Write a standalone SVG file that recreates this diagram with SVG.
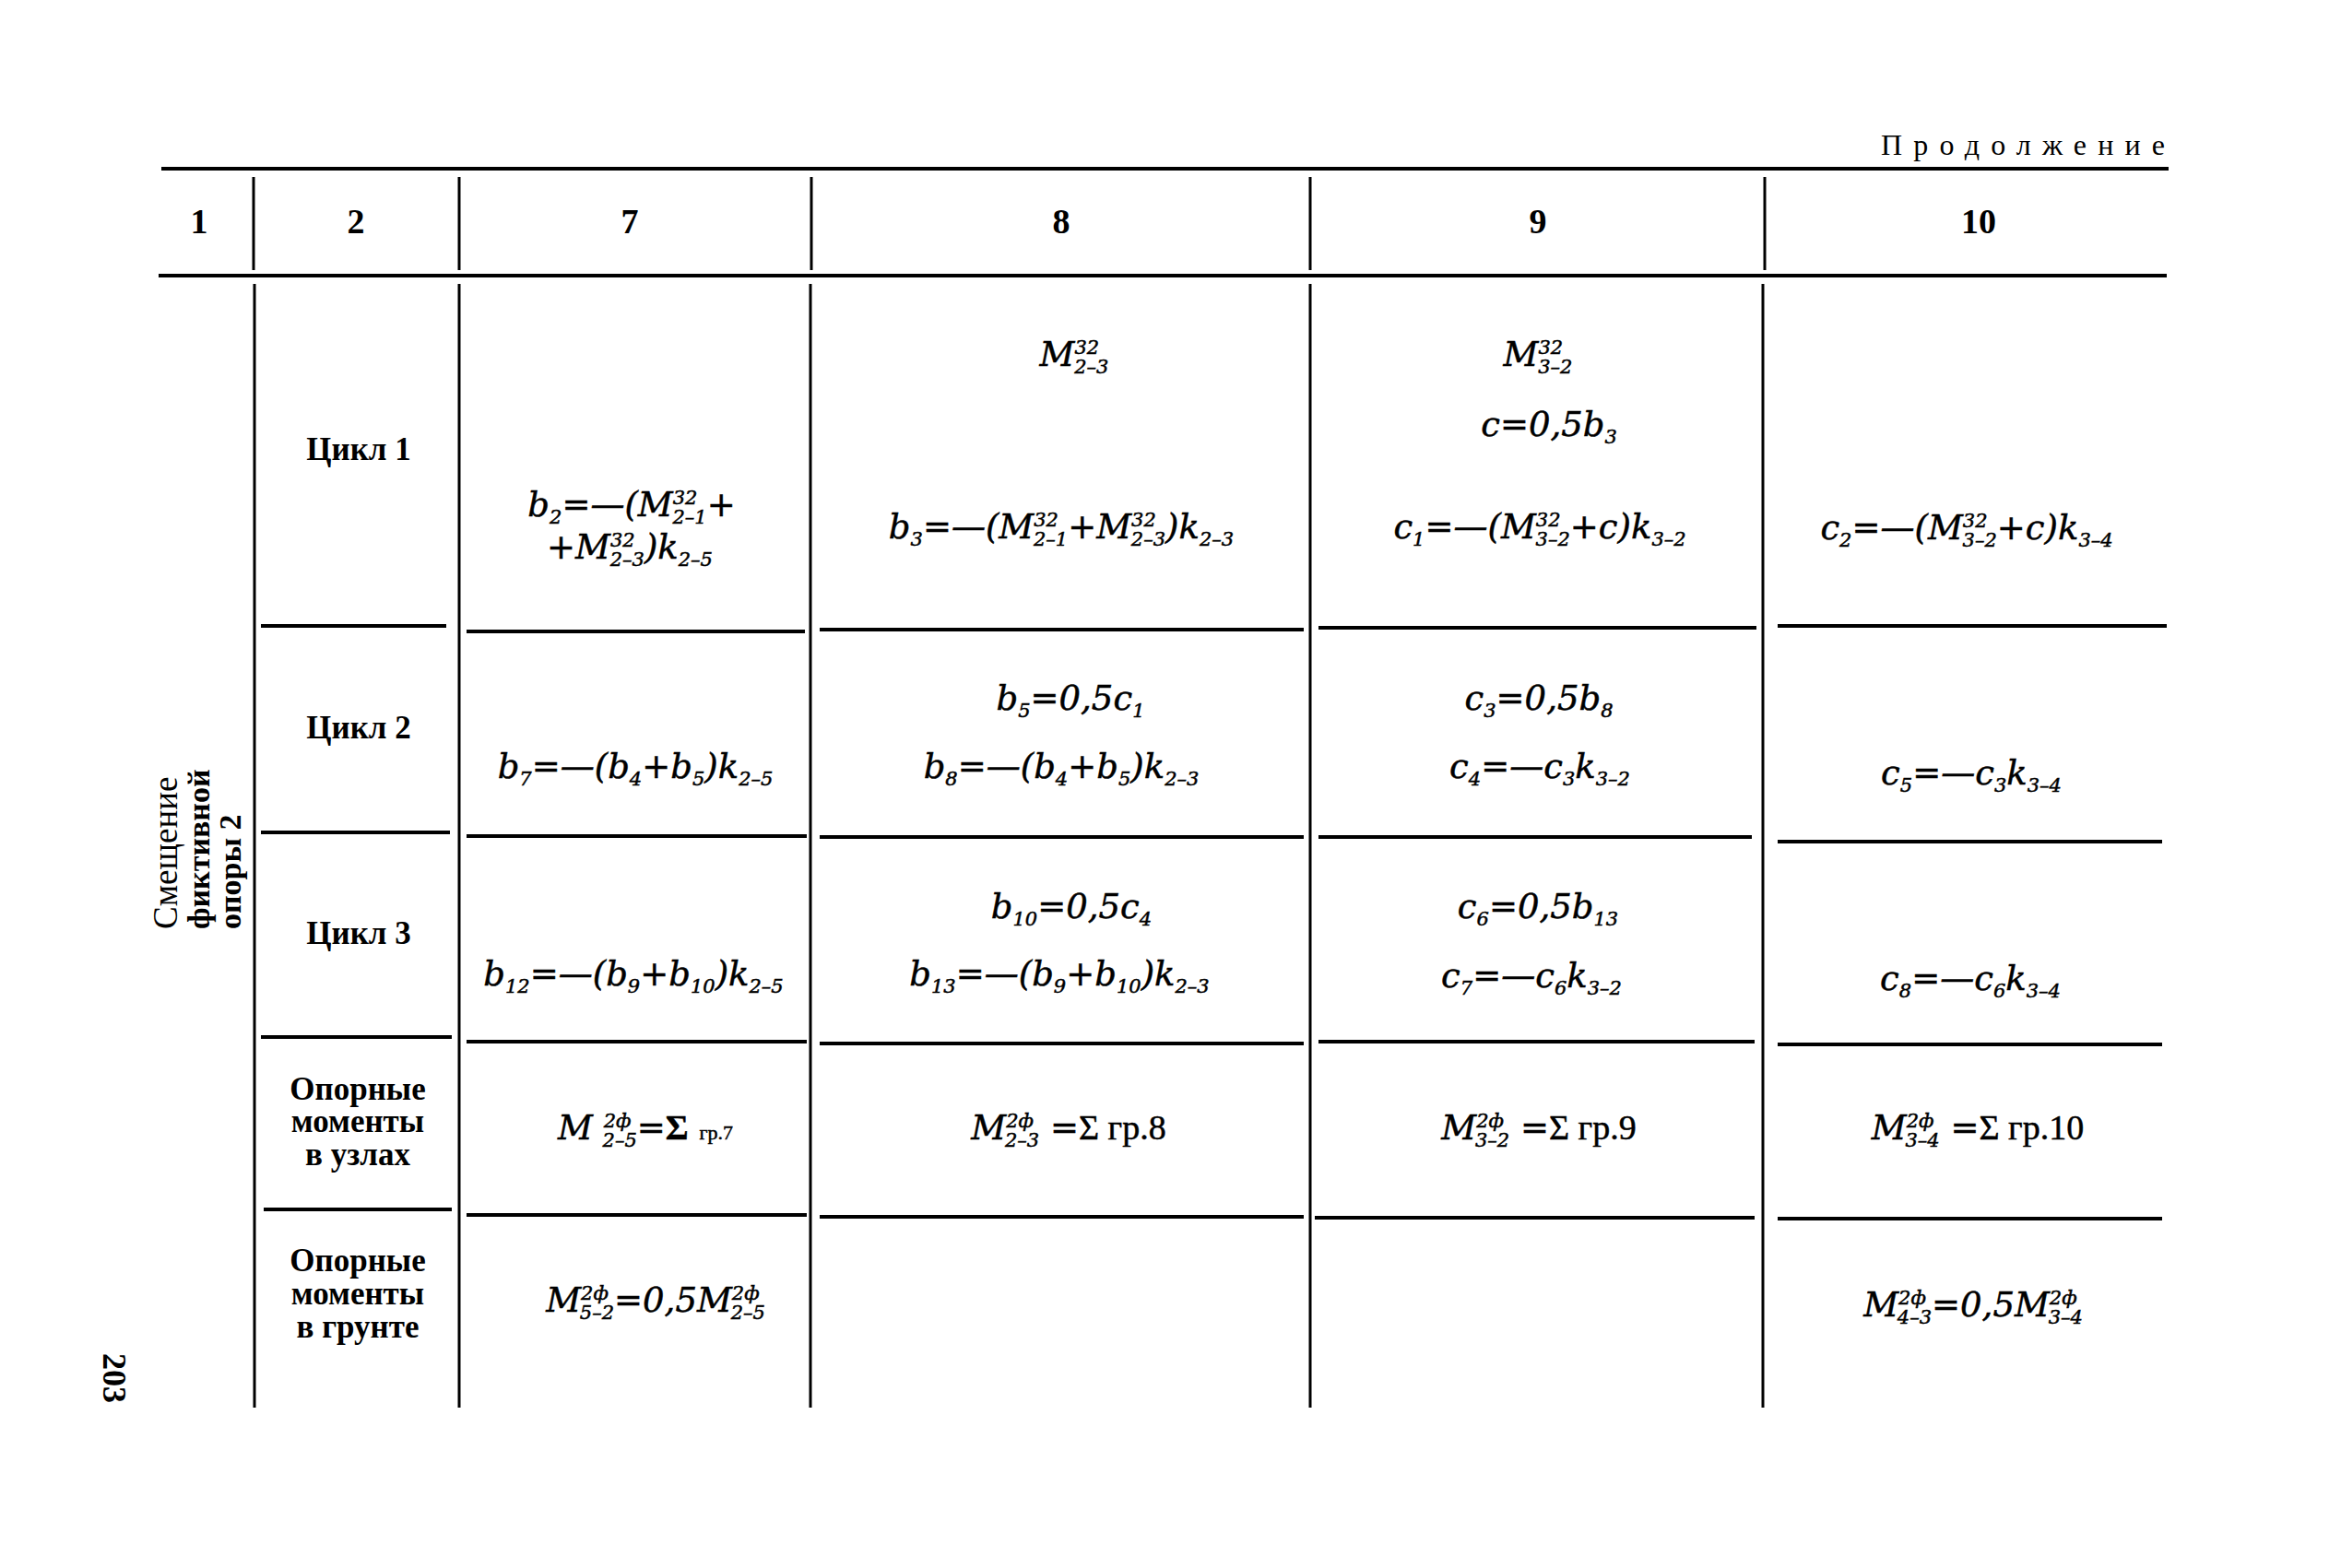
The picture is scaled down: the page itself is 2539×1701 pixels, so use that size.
<svg xmlns="http://www.w3.org/2000/svg" width="2539" height="1701" viewBox="0 0 2539 1701">
<style>
.ln{stroke:#000;stroke-width:4;fill:none}
.vl{stroke:#000;stroke-width:3;fill:none}
.h{font-family:"Liberation Serif",serif;font-weight:bold;font-size:38px;text-anchor:middle;fill:#000}
.l{font-family:"Liberation Serif",serif;font-weight:bold;font-size:35px;text-anchor:middle;fill:#000}
.f{font-family:"DejaVu Serif",serif;font-style:italic;font-size:37px;text-anchor:middle;fill:#000;stroke:#000;stroke-width:0.5}
.sb{font-size:21px;baseline-shift:-8px}
.sp{font-size:21px;baseline-shift:13px}
.u{font-family:"Liberation Serif",serif;font-style:normal;font-size:38px}
.ub{font-family:"Liberation Serif",serif;font-style:normal;font-weight:bold;font-size:38px}
.us{font-family:"Liberation Serif",serif;font-style:normal;font-size:22px}
</style>
<rect width="2539" height="1701" fill="#fff"/>
<text x="2040" y="168" font-family="Liberation Serif, serif" font-size="32" textLength="308" lengthAdjust="spacing">Продолжение</text>
<g id="grid">
<line class="ln" x1="175" y1="183" x2="2352" y2="183"/>
<line class="ln" x1="172" y1="299" x2="2350" y2="299"/>
<line class="vl" x1="275" y1="192" x2="275" y2="293"/>
<line class="vl" x1="498" y1="192" x2="498" y2="293"/>
<line class="vl" x1="880" y1="192" x2="880" y2="293"/>
<line class="vl" x1="1421" y1="192" x2="1421" y2="293"/>
<line class="vl" x1="1914" y1="192" x2="1914" y2="293"/>
<line class="vl" x1="276" y1="308" x2="276" y2="1527"/>
<line class="vl" x1="498" y1="308" x2="498" y2="1527"/>
<line class="vl" x1="879" y1="308" x2="879" y2="1527"/>
<line class="vl" x1="1421" y1="308" x2="1421" y2="1527"/>
<line class="vl" x1="1912" y1="308" x2="1912" y2="1527"/>
<line class="ln" x1="283" y1="679" x2="484" y2="679"/>
<line class="ln" x1="506" y1="685" x2="873" y2="685"/>
<line class="ln" x1="889" y1="683" x2="1414" y2="683"/>
<line class="ln" x1="1430" y1="681" x2="1905" y2="681"/>
<line class="ln" x1="1928" y1="679" x2="2350" y2="679"/>
<line class="ln" x1="283" y1="903" x2="488" y2="903"/>
<line class="ln" x1="506" y1="907" x2="875" y2="907"/>
<line class="ln" x1="889" y1="908" x2="1414" y2="908"/>
<line class="ln" x1="1430" y1="908" x2="1900" y2="908"/>
<line class="ln" x1="1928" y1="913" x2="2345" y2="913"/>
<line class="ln" x1="283" y1="1125" x2="490" y2="1125"/>
<line class="ln" x1="506" y1="1130" x2="875" y2="1130"/>
<line class="ln" x1="889" y1="1132" x2="1414" y2="1132"/>
<line class="ln" x1="1430" y1="1130" x2="1903" y2="1130"/>
<line class="ln" x1="1928" y1="1133" x2="2345" y2="1133"/>
<line class="ln" x1="286" y1="1312" x2="490" y2="1312"/>
<line class="ln" x1="506" y1="1318" x2="875" y2="1318"/>
<line class="ln" x1="889" y1="1320" x2="1414" y2="1320"/>
<line class="ln" x1="1426" y1="1321" x2="1903" y2="1321"/>
<line class="ln" x1="1928" y1="1322" x2="2345" y2="1322"/>
</g>
<g id="header">
<text class="h" x="216" y="253">1</text>
<text class="h" x="386" y="253">2</text>
<text class="h" x="683" y="253">7</text>
<text class="h" x="1151" y="253">8</text>
<text class="h" x="1668" y="253">9</text>
<text class="h" x="2146" y="253">10</text>
</g>
<g id="side-label" font-family="Liberation Serif, serif" font-weight="bold" font-size="34" transform="translate(0,1008) rotate(-90)">
<text x="0" y="192" font-weight="normal" font-size="37">Смещение</text>
<text x="0" y="227">фиктивной</text>
<text x="0" y="261">опоры 2</text>
</g>
<text id="page-number" font-family="Liberation Serif, serif" font-weight="bold" font-size="36" transform="translate(112,1468) rotate(90)" x="0" y="0">203</text>
<g id="col2">
<text class="l" x="389" y="499">Цикл 1</text>
<text class="l" x="389" y="801">Цикл 2</text>
<text class="l" x="389" y="1024">Цикл 3</text>
<text class="l" x="388" y="1193">Опорные</text>
<text class="l" x="388" y="1228">моменты</text>
<text class="l" x="388" y="1264">в узлах</text>
<text class="l" x="388" y="1379">Опорные</text>
<text class="l" x="388" y="1415">моменты</text>
<text class="l" x="388" y="1451">в грунте</text>
</g>
<g id="col7">
<text class="f" x="685" y="560">b<tspan class="sb">2</tspan>=—(M<tspan class="sp">32</tspan><tspan class="sb" dx="-27">2–1</tspan>+</text>
<text class="f" x="683" y="606">+M<tspan class="sp">32</tspan><tspan class="sb" dx="-27">2–3</tspan>)k<tspan class="sb">2–5</tspan></text>
<text class="f" x="689" y="844">b<tspan class="sb">7</tspan>=—(b<tspan class="sb">4</tspan>+b<tspan class="sb">5</tspan>)k<tspan class="sb">2–5</tspan></text>
<text class="f" x="687" y="1069">b<tspan class="sb">12</tspan>=—(b<tspan class="sb">9</tspan>+b<tspan class="sb">10</tspan>)k<tspan class="sb">2–5</tspan></text>
<text class="f" x="700" y="1236">M <tspan class="sp">2ф</tspan><tspan class="sb" dx="-31">2–5</tspan>=<tspan class="ub">Σ</tspan> <tspan class="us">гр.7</tspan></text>
<text class="f" x="711" y="1423">M<tspan class="sp">2ф</tspan><tspan class="sb" dx="-31">5–2</tspan>=0,5M<tspan class="sp">2ф</tspan><tspan class="sb" dx="-31">2–5</tspan></text>
</g>
<g id="col8">
<text class="f" x="1165" y="397">M<tspan class="sp">32</tspan><tspan class="sb" dx="-27">2–3</tspan></text>
<text class="f" x="1151" y="584">b<tspan class="sb">3</tspan>=—(M<tspan class="sp">32</tspan><tspan class="sb" dx="-27">2–1</tspan>+M<tspan class="sp">32</tspan><tspan class="sb" dx="-27">2–3</tspan>)k<tspan class="sb">2–3</tspan></text>
<text class="f" x="1161" y="770">b<tspan class="sb">5</tspan>=0,5c<tspan class="sb">1</tspan></text>
<text class="f" x="1151" y="844">b<tspan class="sb">8</tspan>=—(b<tspan class="sb">4</tspan>+b<tspan class="sb">5</tspan>)k<tspan class="sb">2–3</tspan></text>
<text class="f" x="1162" y="996">b<tspan class="sb">10</tspan>=0,5c<tspan class="sb">4</tspan></text>
<text class="f" x="1149" y="1069">b<tspan class="sb">13</tspan>=—(b<tspan class="sb">9</tspan>+b<tspan class="sb">10</tspan>)k<tspan class="sb">2–3</tspan></text>
<text class="f" x="1159" y="1236">M<tspan class="sp">2ф</tspan><tspan class="sb" dx="-31">2–3</tspan> =<tspan class="u">Σ гр.8</tspan></text>
</g>
<g id="col9">
<text class="f" x="1668" y="397">M<tspan class="sp">32</tspan><tspan class="sb" dx="-27">3–2</tspan></text>
<text class="f" x="1680" y="473">c=0,5b<tspan class="sb">3</tspan></text>
<text class="f" x="1670" y="584">c<tspan class="sb">1</tspan>=—(M<tspan class="sp">32</tspan><tspan class="sb" dx="-27">3–2</tspan>+c)k<tspan class="sb">3–2</tspan></text>
<text class="f" x="1669" y="770">c<tspan class="sb">3</tspan>=0,5b<tspan class="sb">8</tspan></text>
<text class="f" x="1670" y="844">c<tspan class="sb">4</tspan>=—c<tspan class="sb">3</tspan>k<tspan class="sb">3–2</tspan></text>
<text class="f" x="1668" y="996">c<tspan class="sb">6</tspan>=0,5b<tspan class="sb">13</tspan></text>
<text class="f" x="1661" y="1071">c<tspan class="sb">7</tspan>=—c<tspan class="sb">6</tspan>k<tspan class="sb">3–2</tspan></text>
<text class="f" x="1669" y="1236">M<tspan class="sp">2ф</tspan><tspan class="sb" dx="-31">3–2</tspan> =<tspan class="u">Σ гр.9</tspan></text>
</g>
<g id="col10">
<text class="f" x="2133" y="585">c<tspan class="sb">2</tspan>=—(M<tspan class="sp">32</tspan><tspan class="sb" dx="-27">3–2</tspan>+c)k<tspan class="sb">3–4</tspan></text>
<text class="f" x="2138" y="851">c<tspan class="sb">5</tspan>=—c<tspan class="sb">3</tspan>k<tspan class="sb">3–4</tspan></text>
<text class="f" x="2137" y="1074">c<tspan class="sb">8</tspan>=—c<tspan class="sb">6</tspan>k<tspan class="sb">3–4</tspan></text>
<text class="f" x="2145" y="1236">M<tspan class="sp">2ф</tspan><tspan class="sb" dx="-31">3–4</tspan> =<tspan class="u">Σ гр.10</tspan></text>
<text class="f" x="2140" y="1428">M<tspan class="sp">2ф</tspan><tspan class="sb" dx="-31">4–3</tspan>=0,5M<tspan class="sp">2ф</tspan><tspan class="sb" dx="-31">3–4</tspan></text>
</g>
</svg>
